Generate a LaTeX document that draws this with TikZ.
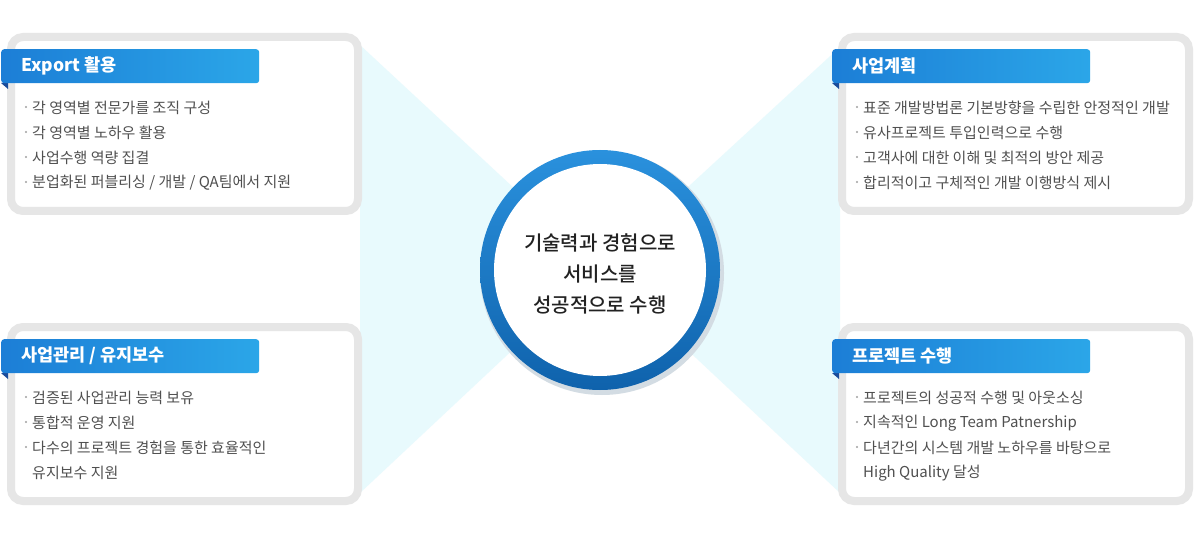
\documentclass[tikz,border=0pt]{standalone}
\usepackage{fontspec}
\setmainfont{Noto Sans CJK KR}
\newfontfamily\medfont{Noto Sans CJK KR Medium}
\definecolor{boxgray}{HTML}{E6E6E6}
\definecolor{raycyan}{HTML}{E8FAFD}
\definecolor{tabL}{HTML}{1C7ED6}
\definecolor{tabR}{HTML}{2BA6E8}
\definecolor{fold}{HTML}{1B4C9A}
\definecolor{bodytxt}{HTML}{505050}
\definecolor{dotgray}{HTML}{A0A0A0}
\definecolor{ringtop}{HTML}{2A91DD}
\definecolor{ringbot}{HTML}{0F62AC}
\definecolor{shadowc}{HTML}{D3DCE3}
\definecolor{centertxt}{HTML}{222222}
\tikzset{
  panel/.style={draw=boxgray, line width=8pt, fill=white, rounded corners=12pt,
    minimum width=347pt, minimum height=174pt, inner sep=0pt},
  tabbox/.style={left color=tabL, right color=tabR, rounded corners=3pt,
    minimum width=258pt, minimum height=34pt, inner sep=0pt, anchor=north west},
  tabtxt/.style={text=white, font=\bfseries\fontsize{17.5}{19}\selectfont, anchor=west, inner sep=0pt},
  item/.style={text=bodytxt, font=\fontsize{15}{17}\selectfont, anchor=west, inner sep=0pt},
  bdot/.style={circle, fill=dotgray, inner sep=0pt, minimum size=2.4pt},
  ctxt/.style={text=centertxt, font=\medfont\fontsize{20}{22}\selectfont, inner sep=0pt},
}
\begin{document}
\begin{tikzpicture}[x=1pt,y=-1pt]
\useasboundingbox (0,0) rectangle (1200,540);
\fill[white] (0,0) rectangle (1200,540);
% rays
\coordinate (apex) at (600,268);
\coordinate (r1) at (360,45);
\coordinate (r2) at (360,493);
\coordinate (r3) at (840,47);
\coordinate (r4) at (840,493);
\fill[raycyan] (r1) -- (apex) -- (r2) -- cycle;
\fill[raycyan] (r3) -- (apex) -- (r4) -- cycle;
% panels
\node[panel] (p1) at (184.5,124) {};
\node[panel] (p2) at (1015.5,124) {};
\node[panel] (p3) at (184.5,414) {};
\node[panel] (p4) at (1015.5,414) {};
% tabs
\newcommand{\mytab}[4]{%
  \fill[fold] (#1,#2+34) -- (#1+7,#2+34) -- (#1+7,#2+40) -- cycle;
  \node[tabbox] (#3) at (#1,#2) {};
  \node[tabtxt] (#3t) at (#1+20,#2+17) {#4};
}
\mytab{1}{49}{t1}{Export 활용}
\mytab{832}{49}{t2}{사업계획}
\mytab{1}{339}{t3}{사업관리 / 유지보수}
\mytab{832}{339}{t4}{프로젝트 수행}
% items
\newcommand{\myitem}[4]{%
  \node[bdot] (#3d) at (#1-6,#2-1) {};
  \node[item] (#3) at (#1,#2) {#4};
}
\myitem{32}{108}{a1}{각 영역별 전문가를 조직 구성}
\myitem{32}{133}{a2}{각 영역별 노하우 활용}
\myitem{32}{158}{a3}{사업수행 역량 집결}
\myitem{32}{183}{a4}{분업화된 퍼블리싱 / 개발 / QA팀에서 지원}
\myitem{863}{108}{b1}{표준 개발방법론 기본방향을 수립한 안정적인 개발}
\myitem{863}{133}{b2}{유사프로젝트 투입인력으로 수행}
\myitem{863}{158}{b3}{고객사에 대한 이해 및 최적의 방안 제공}
\myitem{863}{183}{b4}{합리적이고 구체적인 개발 이행방식 제시}
\myitem{32}{398}{c1}{검증된 사업관리 능력 보유}
\myitem{32}{423}{c2}{통합적 운영 지원}
\myitem{32}{448}{c3}{다수의 프로젝트 경험을 통한 효율적인}
\node[item] (c4) at (32,473) {유지보수 지원};
\myitem{863}{398}{d1}{프로젝트의 성공적 수행 및 아웃소싱}
\myitem{863}{423}{d2}{지속적인 Long Team Patnership}
\myitem{863}{448}{d3}{다년간의 시스템 개발 노하우를 바탕으로}
\node[item] (d4) at (863,473) {High Quality 달성};
% center circle
\fill[shadowc] (602,273) circle[radius=122pt];
\shade[top color=ringtop, bottom color=ringbot] (600,270) circle[radius=120pt];
\node[circle, fill=white, minimum size=212pt, inner sep=0pt] (ctr) at (600,270) {};
\node[ctxt] (l1) at (600,243) {기술력과 경험으로};
\node[ctxt] (l2) at (600,274) {서비스를};
\node[ctxt] (l3) at (600,305) {성공적으로 수행};
\end{tikzpicture}
\end{document}
